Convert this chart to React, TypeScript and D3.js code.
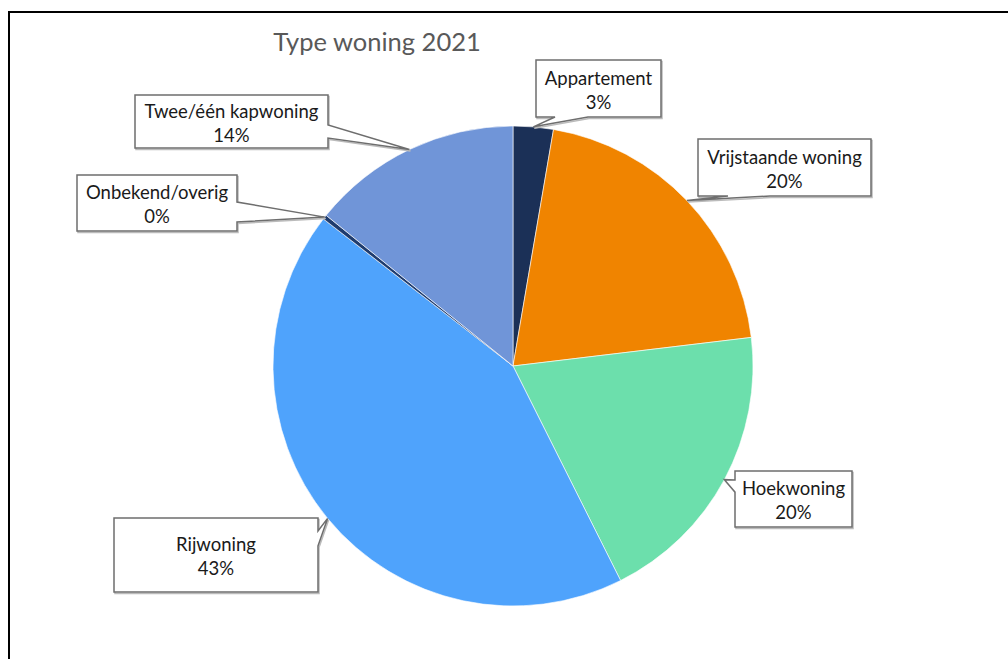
import React from "react";
import * as d3 from "d3";

const categories = [
  "Appartement",
  "Vrijstaande woning",
  "Hoekwoning",
  "Rijwoning",
  "Onbekend/overig",
  "Twee/één kapwoning",
];
const values = [2.7, 20.4, 19.5, 42.9, 0.3, 14.2];
const percentLabels = ["3%", "20%", "20%", "43%", "0%", "14%"];
const colors = ["#1b3057", "#f08400", "#6cdfac", "#4fa3fc", "#1f3c6e", "#7095d8"];
const title = "Type woning 2021";

// callout layout: box and wedge base on a side
type Side = "top" | "right" | "bottom" | "left";
const callouts: { x: number; y: number; w: number; h: number; side: Side; a: number; b: number }[] = [
  { x: 536, y: 60, w: 125, h: 57, side: "bottom", a: 555, b: 588 },
  { x: 698, y: 139, w: 173, h: 57, side: "bottom", a: 728, b: 770 },
  { x: 735, y: 471, w: 117, h: 56, side: "left", a: 480, b: 492 },
  { x: 114, y: 518, w: 204, h: 74, side: "right", a: 531, b: 546 },
  { x: 77, y: 175, w: 160, h: 56, side: "right", a: 202, b: 222 },
  { x: 135, y: 95, w: 193, h: 53, side: "right", a: 125, b: 138 },
];

const W = 1008;
const H = 659;
const cx = 513;
const cy = 366;
const R = 240;
const FONT = "Lato, 'Noto Sans', sans-serif";

function calloutPath(c: (typeof callouts)[number], tip: [number, number]) {
  const { x, y, w, h, side, a, b } = c;
  const p = d3.path();
  const [tx, ty] = tip;
  p.moveTo(x, y);
  if (side === "top") {
    p.lineTo(a, y);
    p.lineTo(tx, ty);
    p.lineTo(b, y);
  }
  p.lineTo(x + w, y);
  if (side === "right") {
    p.lineTo(x + w, a);
    p.lineTo(tx, ty);
    p.lineTo(x + w, b);
  }
  p.lineTo(x + w, y + h);
  if (side === "bottom") {
    p.lineTo(b, y + h);
    p.lineTo(tx, ty);
    p.lineTo(a, y + h);
  }
  p.lineTo(x, y + h);
  if (side === "left") {
    p.lineTo(x, b);
    p.lineTo(tx, ty);
    p.lineTo(x, a);
  }
  p.closePath();
  return p.toString();
}

export default function App() {
  const data = categories.map((c, i) => ({ c, v: values[i], i }));
  const pie = d3
    .pie<(typeof data)[number]>()
    .value((d) => d.v)
    .sort(null)
    .startAngle(0)
    .endAngle(2 * Math.PI);
  const arcs = pie(data);
  const arc = d3.arc<d3.PieArcDatum<(typeof data)[number]>>().innerRadius(0).outerRadius(R);
  const edgeArc = d3.arc<d3.PieArcDatum<(typeof data)[number]>>().innerRadius(R).outerRadius(R);

  return (
    <svg
      width={W}
      height={H}
      style={{ position: "absolute", left: 0, top: 0, background: "#fff" }}
      fontFamily={FONT}
    >
      <rect x={0} y={0} width={W} height={H} fill="#fff" />
      <rect x={9} y={12} width={W + 20} height={H + 20} fill="none" stroke="#000" strokeWidth={2} />
      <text x={377} y={51} textAnchor="middle" fontSize={25.5} fill="#595959">
        {title}
      </text>
      <g transform={`translate(${cx},${cy})`}>
        {arcs.map((a, i) => (
          <path key={i} d={arc(a) || ""} fill={colors[i]} stroke="#fff" strokeWidth={0.6} />
        ))}
      </g>
      {arcs.map((a, i) => {
        const [ex, ey] = edgeArc.centroid(a);
        const tip: [number, number] = [cx + ex, cy + ey];
        const c = callouts[i];
        const d = calloutPath(c, tip);
        const mx = c.x + c.w / 2;
        const my = c.y + c.h / 2;
        return (
          <g key={i}>
            <path d={d} transform="translate(1,1.5)" fill="none" stroke="#bbb" strokeWidth={1.5} />
            <path d={d} fill="#fff" stroke="#6e6e6e" strokeWidth={1.5} />
            <text x={mx} y={my - 4} textAnchor="middle" fontSize={18.5} fill="#1a1a1a">
              {categories[i]}
            </text>
            <text x={mx} y={my + 20} textAnchor="middle" fontSize={18.5} fill="#1a1a1a">
              {percentLabels[i]}
            </text>
          </g>
        );
      })}
    </svg>
  );
}
